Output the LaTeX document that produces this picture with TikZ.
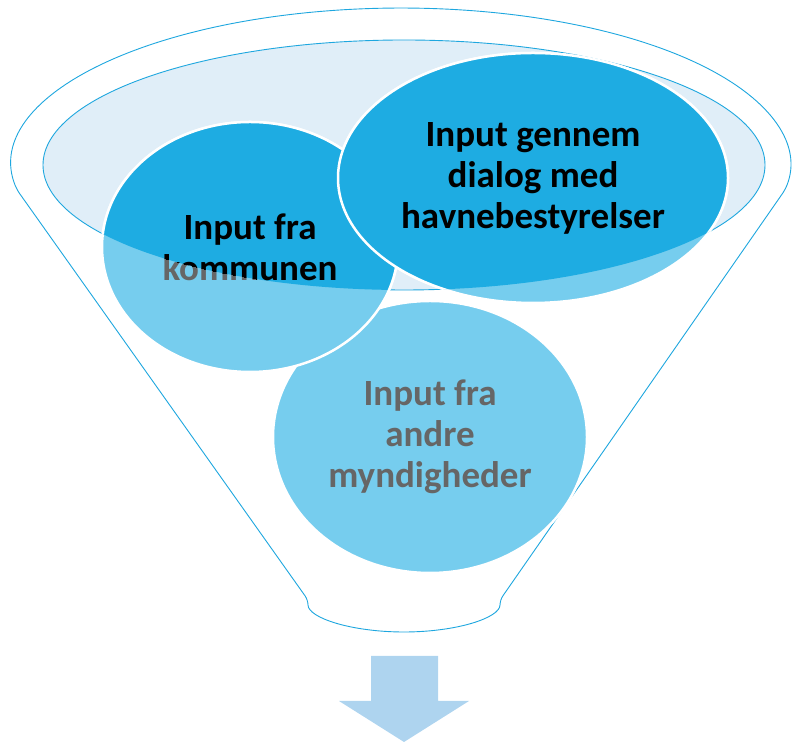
\documentclass[tikz,border=0pt]{standalone}
\usepackage{fontspec}
\setmainfont{Carlito}
\usepackage{tikz}
\usetikzlibrary{shapes.geometric}
\definecolor{rimblue}{HTML}{1EA7DF}
\definecolor{deepblue}{HTML}{1EACE2}
\definecolor{paleblue}{HTML}{76CDEE}
\definecolor{mouthblue}{HTML}{E0EEF8}
\definecolor{arrowblue}{HTML}{AED4EF}
\definecolor{textgrey}{HTML}{666666}
\def\bubble{\node[ellipse,draw=white,line width=2.5pt,inner sep=0pt,align=center,font=\fontsize{37}{41}\selectfont\bfseries]}
\def\drawmouth{\path[fill=mouthblue,draw=rimblue,line width=0.9pt]}

\begin{document}
\begin{tikzpicture}[x=1pt,y=1pt]
\useasboundingbox (0,0) rectangle (792,743);
% funnel body
\draw[rimblue,line width=0.9pt,fill=white,rounded corners=5pt] (16.8,553.4)
  arc[start angle=189,end angle=-9,x radius=389,y radius=157] -- (500,143)
  arc[start angle=0,end angle=-180,x radius=96,y radius=32] -- cycle;
\drawmouth (404,578) ellipse [x radius=361,y radius=125];
% bubbles outside the mouth
\bubble[fill=paleblue,text=textgrey,minimum width=314pt,minimum height=272pt] (andre) at (430,306) {Input fra\\andre\\myndigheder};
\bubble[fill=paleblue,text=textgrey,minimum width=296pt,minimum height=250pt] (kommune) at (250,496) {Input fra\\kommunen};
\bubble[fill=paleblue,text=textgrey,minimum width=390pt,minimum height=250pt] (havn) at (533,565) {Input gennem\\dialog med\\havnebestyrelser};
% same bubbles seen through the mouth
\begin{scope}
\clip (404,578) ellipse [x radius=361,y radius=125];
\bubble[fill=deepblue,text=black,minimum width=296pt,minimum height=250pt] (kommune-in) at (250,496) {Input fra\\kommunen};
\bubble[fill=deepblue,text=black,minimum width=390pt,minimum height=250pt] (havn-in) at (533,565) {Input gennem\\dialog med\\havnebestyrelser};
\end{scope}
% arrow out of the funnel
\fill[arrowblue] (371,87) -- (438,87) -- (438,42) -- (469,42) -- (404,1) -- (339,42) -- (371,42) -- cycle;
\end{tikzpicture}
\end{document}
